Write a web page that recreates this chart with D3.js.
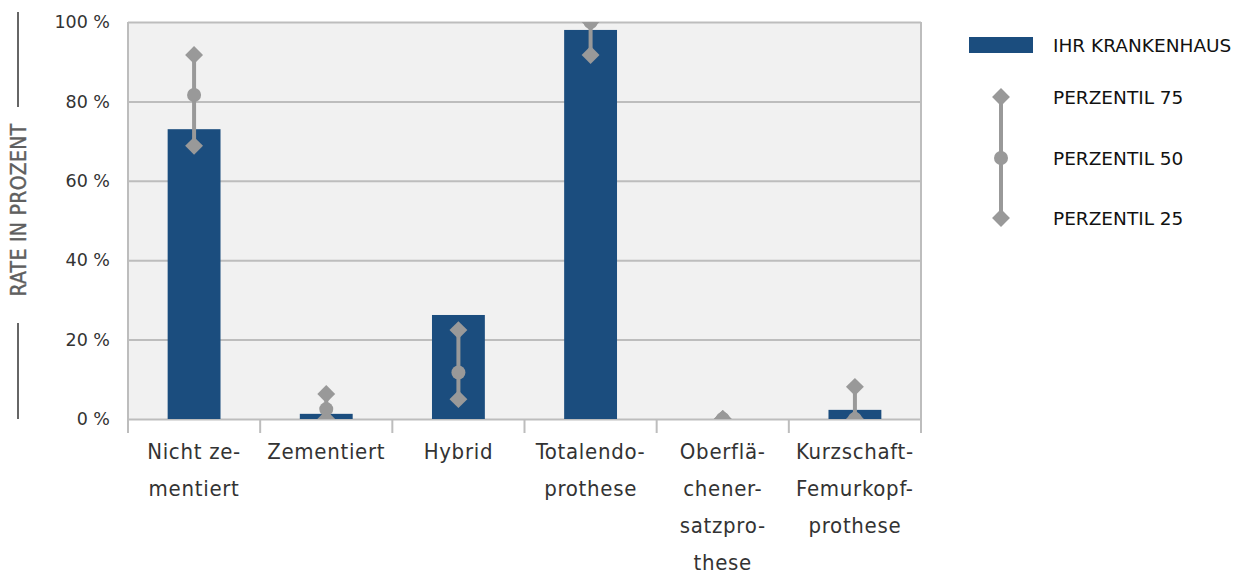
<!DOCTYPE html>
<html>
<head>
<meta charset="utf-8">
<script src="https://cdn.jsdelivr.net/npm/d3@7"></script>
<style>
  html, body { margin: 0; padding: 0; background: #fff; }
  svg { display: block; }
</style>
</head>
<body>
<svg id="chart" width="1239" height="574"></svg>
<script>
// Kategorien (Prothesenart) mit Silbentrennung wie im Bericht
const categories = [
  ["Nicht ze-", "mentiert"],
  ["Zementiert"],
  ["Hybrid"],
  ["Totalendo-", "prothese"],
  ["Oberflä-", "chener-", "satzpro-", "these"],
  ["Kurzschaft-", "Femurkopf-", "prothese"]
];
// Rate des eigenen Krankenhauses in %
const hospitalRate = [73.0, 1.3, 26.2, 98.0, 0, 2.3];
// Perzentile der Vergleichsgruppe in %
const p75 = [91.7, 6.3, 22.4, 100, 0, 8.1];
const p50 = [81.6, 2.5, 11.7, 100, 0, 0];
const p25 = [68.8, 0, 5.0, 91.7, 0, 0];
const yTicks = [0, 20, 40, 60, 80, 100];
const legendLabels = ["IHR KRANKENHAUS", "PERZENTIL 75", "PERZENTIL 50", "PERZENTIL 25"];
const yTitle = "RATE IN PROZENT";

const barColor = "#1b4d7e";
const whiskerColor = "#999999";
const gridColor = "#bdbdbd";

const svg = d3.select("#chart");
const plot = { left: 128, right: 921, top: 22, bottom: 419 };

const x = d3.scaleBand()
  .domain(d3.range(categories.length))
  .range([plot.left, plot.right])
  .paddingInner(0)
  .paddingOuter(0);
const barW = x.bandwidth() * 0.4;

const y = d3.scaleLinear().domain([0, 100]).range([plot.bottom, plot.top]);

// Plotbereich
svg.append("rect")
  .attr("x", plot.left).attr("y", plot.top)
  .attr("width", plot.right - plot.left).attr("height", plot.bottom - plot.top)
  .attr("fill", "#f1f1f1");

svg.append("clipPath").attr("id", "plotClip")
  .append("rect")
  .attr("x", plot.left).attr("y", plot.top)
  .attr("width", plot.right - plot.left).attr("height", plot.bottom - plot.top);

// Gitterlinien
svg.append("g")
  .attr("transform", `translate(${plot.left},0)`)
  .call(d3.axisLeft(y).tickValues(yTicks).tickSize(-(plot.right - plot.left)).tickFormat(""))
  .call(g => g.select(".domain").remove())
  .call(g => g.selectAll("line").attr("stroke", gridColor).attr("stroke-width", 2));

// Rahmen links/rechts
svg.append("line").attr("x1", plot.left).attr("x2", plot.left)
  .attr("y1", plot.top).attr("y2", plot.bottom).attr("stroke", gridColor).attr("stroke-width", 2);
svg.append("line").attr("x1", plot.right).attr("x2", plot.right)
  .attr("y1", plot.top).attr("y2", plot.bottom).attr("stroke", gridColor).attr("stroke-width", 2);

// Y-Achsenbeschriftung
svg.append("g")
  .attr("transform", `translate(${plot.left - 15},0)`)
  .call(d3.axisLeft(y).tickValues(yTicks).tickSize(0).tickFormat(d => d + " %"))
  .call(g => g.select(".domain").remove())
  .call(g => g.selectAll("text")
    .attr("font-family", "DejaVu Sans")
    .attr("font-size", 17.5)
    .attr("fill", "#333"));

// Kategorie-Trennstriche
const boundaries = d3.range(categories.length + 1).map(i =>
  i < categories.length ? x(i) : x(categories.length - 1) + x.bandwidth());
svg.append("g").selectAll("line").data(boundaries).join("line")
  .attr("x1", d => d).attr("x2", d => d)
  .attr("y1", plot.bottom).attr("y2", plot.bottom + 14)
  .attr("stroke", gridColor).attr("stroke-width", 2);

// Kategorienamen
const xl = svg.append("g");
categories.forEach((lines, i) => {
  const t = xl.append("text")
    .attr("x", x(i) + x.bandwidth() / 2)
    .attr("y", 459)
    .attr("text-anchor", "middle")
    .attr("font-family", "DejaVu Sans Condensed")
    .attr("font-size", 22)
    .attr("letter-spacing", 0.7)
    .attr("fill", "#333");
  lines.forEach((l, j) => {
    t.append("tspan").attr("x", x(i) + x.bandwidth() / 2).attr("dy", j === 0 ? 0 : 37).text(l);
  });
});

// Balken
const marks = svg.append("g").attr("clip-path", "url(#plotClip)");
marks.selectAll("rect.bar").data(hospitalRate).join("rect")
  .attr("class", "bar")
  .attr("x", (d, i) => x(i) + (x.bandwidth() - barW) / 2)
  .attr("y", d => y(d))
  .attr("width", barW)
  .attr("height", d => y(0) - y(d))
  .attr("fill", barColor);

// Perzentil-Spannen
const diamond = d3.symbol().type(d3.symbolSquare).size(160);
const cx = i => x(i) + x.bandwidth() / 2;
categories.forEach((c, i) => {
  marks.append("line")
    .attr("x1", cx(i)).attr("x2", cx(i))
    .attr("y1", y(p25[i])).attr("y2", y(p75[i]))
    .attr("stroke", whiskerColor).attr("stroke-width", 4);
  [p75[i], p25[i]].forEach(v => {
    marks.append("path")
      .attr("d", diamond())
      .attr("transform", `translate(${cx(i)},${y(v)}) rotate(45)`)
      .attr("fill", whiskerColor);
  });
  marks.append("circle")
    .attr("cx", cx(i)).attr("cy", y(p50[i])).attr("r", 7)
    .attr("fill", whiskerColor);
});

// Y-Achsentitel mit Begleitlinien
svg.append("text")
  .attr("transform", `translate(26,210) rotate(-90)`)
  .attr("text-anchor", "middle")
  .attr("font-family", "DejaVu Sans Condensed")
  .attr("font-size", 21)
  .attr("letter-spacing", 0.3)
  .attr("fill", "#5f5f5f")
  .attr("stroke", "#5f5f5f")
  .attr("stroke-width", 0.4)
  .text(yTitle);
svg.append("line").attr("x1", 18).attr("x2", 18).attr("y1", 12).attr("y2", 107)
  .attr("stroke", "#666").attr("stroke-width", 2);
svg.append("line").attr("x1", 18).attr("x2", 18).attr("y1", 323).attr("y2", 419)
  .attr("stroke", "#666").attr("stroke-width", 2);

// Legende
const lg = svg.append("g");
lg.append("rect").attr("x", 969).attr("y", 37).attr("width", 64).attr("height", 16).attr("fill", barColor);
const legY = [45, 97, 158, 218];
lg.append("line").attr("x1", 1001).attr("x2", 1001).attr("y1", legY[1]).attr("y2", legY[3])
  .attr("stroke", whiskerColor).attr("stroke-width", 4);
[legY[1], legY[3]].forEach(yy => {
  lg.append("path").attr("d", diamond())
    .attr("transform", `translate(1001,${yy}) rotate(45)`).attr("fill", whiskerColor);
});
lg.append("circle").attr("cx", 1001).attr("cy", legY[2]).attr("r", 7).attr("fill", whiskerColor);
lg.selectAll("text").data(legendLabels).join("text")
  .attr("x", 1053)
  .attr("y", (d, i) => legY[i])
  .attr("dy", "0.36em")
  .attr("font-family", "DejaVu Sans")
  .attr("font-size", 18.5)
  .attr("fill", "#111")
  .text(d => d);
</script>
</body>
</html>
